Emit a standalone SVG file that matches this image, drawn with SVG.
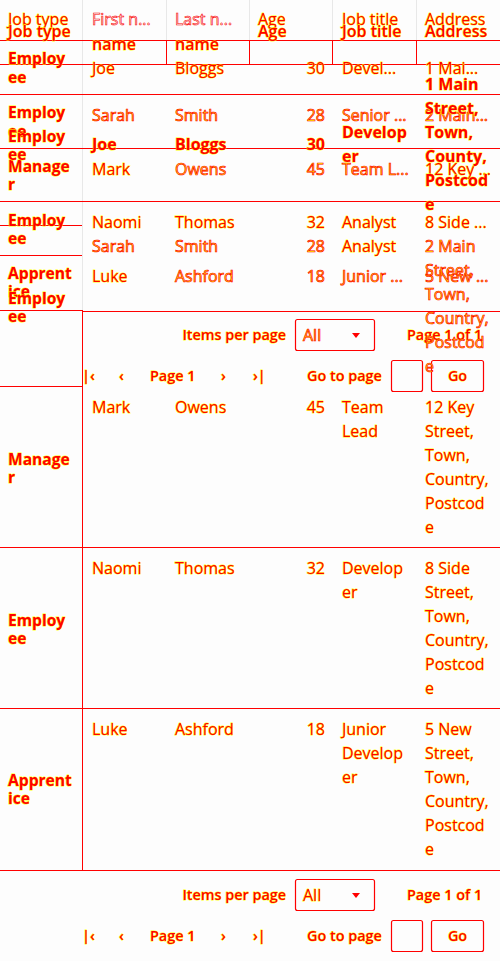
<svg xmlns="http://www.w3.org/2000/svg" width="500" height="961" viewBox="0 0 500 961">
<style>
text{font-family:"Open Sans","Noto Sans",sans-serif;font-size:16px}
.r{fill:#ff0000;stroke:#ffff00;stroke-width:0.9;paint-order:stroke}
.y{fill:#ffff00;stroke:#ff0000;stroke-width:0.7}
.g{fill:#eeeeee;stroke:#ff0000;stroke-width:0.6}
.b{font-weight:700}
.s{font-weight:600}
.jt{font-size:15.6px;font-weight:700}
.p{font-size:14.4px;font-weight:600}
.n{text-anchor:end}
.ln{stroke:#ff0000;stroke-width:1;fill:none;shape-rendering:crispEdges}
.fl{stroke:#e8e8e8;stroke-width:1;fill:none;shape-rendering:crispEdges}
.bx{stroke:#ff0000;stroke-width:1.2;fill:none}
</style>
<rect width="500" height="961" fill="#fdfdfd"/>
<g id="grid">
<path class="fl" d="M82.5 0V310M166.5 0V40M249.5 0V40M332.5 0V40M416.5 0V40"/>
<path class="ln" d="M0 40.5H500M0 64.5H500M0 94.5H500M0 148.5H500M0 201.5H500M0 225.5H82M0 255.5H82M82 311.5H500M0 386.5H82M0 547.5H500M0 708.5H500M82 870.5H500"/>
<path class="ln" d="M166.5 40.5V64M249.5 40.5V64M332.5 40.5V64M416.5 40.5V64M82.5 310V870"/>
<path class="ln" stroke-width="2" d="M0 310.5H83M0 870.5H83"/>
</g>
<g id="header">
<text class="r" x="8" y="25">Job type</text>
<text class="g" x="92" y="25">First n...</text>
<text class="g" x="175" y="25">Last n...</text>
<text class="r" x="258" y="25">Age</text>
<text class="r" x="342" y="25">Job title</text>
<text class="r" x="425" y="25">Address</text>
<text class="r s" x="8" y="37">Job type</text>
<text class="r s" x="92" y="49.5">name</text>
<text class="r s" x="175" y="49.5">name</text>
<text class="r s" x="258" y="37">Age</text>
<text class="r s" x="342" y="37">Job title</text>
<text class="r s" x="425" y="37">Address</text>
</g>
<g id="compact-rows">
<text class="r jt" x="8" y="64">Employ</text><text class="r jt" x="8" y="82.5">ee</text>
<text class="r" x="92" y="73.5">Joe</text><text class="r" x="175" y="73.5">Bloggs</text><text class="r n" x="325" y="73.5">30</text><text class="r" x="342" y="73.5">Devel...</text><text class="r" x="425" y="73.5">1 Mai...</text>
<text class="r jt" x="8" y="118">Employ</text><text class="r jt" x="8" y="136.5">ee</text>
<text class="y" x="92" y="120.5">Sarah</text><text class="y" x="175" y="120.5">Smith</text><text class="y n" x="325" y="120.5">28</text><text class="y" x="342" y="120.5">Senior ...</text><text class="y" x="425" y="120.5">2 Main...</text>
<text class="r jt" x="8" y="172">Manage</text><text class="r jt" x="8" y="190">r</text>
<text class="r" x="92" y="175">Mark</text><text class="y" x="175" y="175">Owens</text><text class="y n" x="325" y="175">45</text><text class="y" x="342" y="175">Team L...</text><text class="r" x="425" y="175">12 Key ...</text>
<text class="r jt" x="8" y="225.5">Employ</text><text class="r jt" x="8" y="243.5">ee</text>
<text class="r" x="92" y="227.5">Naomi</text><text class="r" x="175" y="227.5">Thomas</text><text class="r n" x="325" y="227.5">32</text><text class="r" x="342" y="227.5">Analyst</text><text class="r" x="425" y="227.5">8 Side ...</text>
<text class="r jt" x="8" y="278.5">Apprent</text><text class="r jt" x="8" y="296.5">ice</text>
<text class="r" x="92" y="281.5">Luke</text><text class="y" x="175" y="281.5">Ashford</text><text class="y n" x="325" y="281.5">18</text><text class="y" x="342" y="281.5">Junior ...</text><text class="y" x="425" y="281.5">5 New ...</text>
</g>
<g id="compact-pager">
<text class="r p n" x="286" y="340">Items per page</text>
<rect class="bx" x="295.5" y="319.5" width="79" height="31" rx="2"/>
<text class="y" x="303" y="341">All</text>
<path d="M352 333h8l-4 5z" fill="#ff0000"/>
<text class="r p" x="407" y="340">Page 1 of 1</text>
<text class="r p" x="82" y="381">|‹</text>
<text class="r p" x="119" y="381">‹</text>
<text class="r p" x="150" y="381">Page 1</text>
<text class="r p" x="221" y="381">›</text>
<text class="r p" x="253" y="381">›|</text>
<text class="r p" x="307" y="381">Go to page</text>
<rect class="bx" x="391.5" y="360.5" width="31" height="31" rx="2"/>
<rect class="bx" x="431.5" y="360.5" width="52" height="31" rx="2"/>
<text class="r p" x="457.5" y="381" text-anchor="middle">Go</text>
</g>
<g id="row-1">
<text class="r jt" x="8" y="142">Employ</text><text class="r jt" x="8" y="160">ee</text>
<text class="r b" x="92" y="150">Joe</text><text class="r b" x="175" y="150">Bloggs</text><text class="r b n" x="325" y="150">30</text>
<text class="r b" x="342" y="138">Develop</text><text class="r b" x="342" y="162">er</text>
<text class="r b" x="425" y="90">1 Main</text><text class="r b" x="425" y="114">Street,</text><text class="r b" x="425" y="138">Town,</text><text class="r b" x="425" y="162">County,</text><text class="r b" x="425" y="186">Postcod</text><text class="r b" x="425" y="210">e</text>
</g>
<g id="row-2">
<text class="r jt" x="8" y="303.5">Employ</text><text class="r jt" x="8" y="321.5">ee</text>
<text class="y" x="92" y="251.5">Sarah</text><text class="y" x="175" y="251.5">Smith</text><text class="y n" x="325" y="251.5">28</text><text class="r" x="342" y="251.5">Analyst</text>
<text class="y" x="425" y="251.5">2 Main</text><text class="y" x="425" y="275.5">Street,</text><text class="y" x="425" y="299.5">Town,</text><text class="y" x="425" y="323.5">Country,</text><text class="y" x="425" y="347.5">Postcod</text><text class="y" x="425" y="371.5">e</text>
</g>
<g id="row-3">
<text class="r jt" x="8" y="464.5">Manage</text><text class="r jt" x="8" y="482.5">r</text>
<text class="r" x="92" y="413">Mark</text><text class="r" x="175" y="413">Owens</text><text class="r n" x="325" y="413">45</text>
<text class="r" x="342" y="413">Team</text><text class="r" x="342" y="437">Lead</text>
<text class="r" x="425" y="413">12 Key</text><text class="r" x="425" y="437">Street,</text><text class="r" x="425" y="461">Town,</text><text class="r" x="425" y="485">Country,</text><text class="r" x="425" y="509">Postcod</text><text class="r" x="425" y="533">e</text>
</g>
<g id="row-4">
<text class="r jt" x="8" y="625.5">Employ</text><text class="r jt" x="8" y="643.5">ee</text>
<text class="r" x="92" y="574">Naomi</text><text class="r" x="175" y="574">Thomas</text><text class="r n" x="325" y="574">32</text>
<text class="r" x="342" y="574">Develop</text><text class="r" x="342" y="598">er</text>
<text class="r" x="425" y="574">8 Side</text><text class="r" x="425" y="598">Street,</text><text class="r" x="425" y="622">Town,</text><text class="r" x="425" y="646">Country,</text><text class="r" x="425" y="670">Postcod</text><text class="r" x="425" y="694">e</text>
</g>
<g id="row-5">
<text class="r jt" x="8" y="786">Apprent</text><text class="r jt" x="8" y="804">ice</text>
<text class="r" x="92" y="735">Luke</text><text class="r" x="175" y="735">Ashford</text><text class="r n" x="325" y="735">18</text>
<text class="r" x="342" y="735">Junior</text><text class="r" x="342" y="759">Develop</text><text class="r" x="342" y="783">er</text>
<text class="r" x="425" y="735">5 New</text><text class="r" x="425" y="759">Street,</text><text class="r" x="425" y="783">Town,</text><text class="r" x="425" y="807">Country,</text><text class="r" x="425" y="831">Postcod</text><text class="r" x="425" y="855">e</text>
</g>
<g id="pager">
<text class="r p n" x="286" y="900">Items per page</text>
<rect class="bx" x="295.5" y="879.5" width="79" height="31" rx="2"/>
<text class="r" x="303" y="901">All</text>
<path d="M352 893h8l-4 5z" fill="#ff0000"/>
<text class="r p" x="407" y="900">Page 1 of 1</text>
<text class="r p" x="82" y="941">|‹</text>
<text class="r p" x="119" y="941">‹</text>
<text class="r p" x="150" y="941">Page 1</text>
<text class="r p" x="221" y="941">›</text>
<text class="r p" x="253" y="941">›|</text>
<text class="r p" x="307" y="941">Go to page</text>
<rect class="bx" x="391.5" y="920.5" width="31" height="31" rx="2"/>
<rect class="bx" x="431.5" y="920.5" width="52" height="31" rx="2"/>
<text class="r p" x="457.5" y="941" text-anchor="middle">Go</text>
</g>
</svg>
